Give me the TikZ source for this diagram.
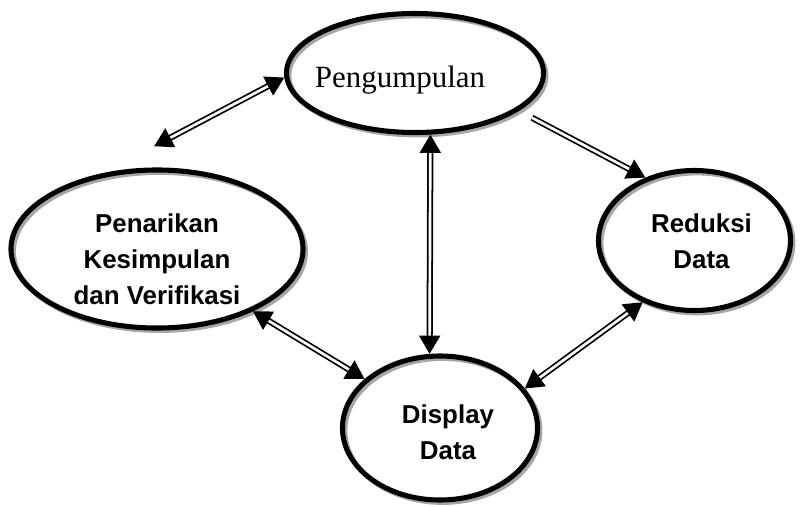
\documentclass[tikz,border=0pt]{standalone}
\usepackage{fontspec}
\setmainfont{Liberation Serif}
\newfontfamily\tebalfont{Liberation Sans}
\usetikzlibrary{arrows.meta,shapes.geometric}
% teks digeser di dalam elips
\newcommand\isi[3]{\makebox[0pt]{\hspace*{#1}\raisebox{#2}[0pt][0pt]{\begin{tabular}{@{}c@{}}#3\end{tabular}}}}
\tikzset{
  tahap/.style={ellipse, draw, line width=3.6pt, inner sep=0pt,
    preaction={draw=black!35, line width=3.4pt, transform canvas={shift={(1.8pt,-1.8pt)}}}},
  tebal/.style={font=\tebalfont\bfseries\fontsize{18.4pt}{25.6pt}\selectfont},
  panah/.style={line width=1.25pt, double=white, double distance=1.9pt}
}
\begin{document}
\begin{tikzpicture}[x=0.025cm, y=-0.025cm, >={Triangle[length=13pt,width=15pt]}]
\useasboundingbox (0,0) rectangle (810,507);
% empat tahap
\node[tahap, minimum width=6.425cm, minimum height=2.975cm,
  font=\fontsize{22pt}{26pt}\selectfont] (peng) at (415,73)
  {\isi{-0.75cm}{-0.35cm}{Pengumpulan}};
\node[tahap, tebal, minimum width=7.3cm, minimum height=3.95cm] (pen) at (157,249)
  {\isi{0cm}{-0.46cm}{Penarikan\\Kesimpulan\\dan Verifikasi}};
\node[tahap, tebal, minimum width=4.8cm, minimum height=3.5cm] (red) at (694.5,240.5)
  {\isi{0.35cm}{-0.22cm}{Reduksi\\Data}};
\node[tahap, tebal, minimum width=4.875cm, minimum height=3.6cm] (disp) at (440,428)
  {\isi{0.4cm}{-0.3cm}{Display\\Data}};
% panah
\draw[panah, <->, shorten <=1.425cm] (pen.125) -- (peng.182);
\draw[panah, ->, shorten <=0.37cm] (peng.-20) -- (red.128);
\draw[panah, <->] (peng.-76) -- (disp.98);
\draw[panah, <->] (pen.-33) -- (disp.147);
\draw[panah, <->] (red.230) -- (disp.25.5);
\end{tikzpicture}
\end{document}
